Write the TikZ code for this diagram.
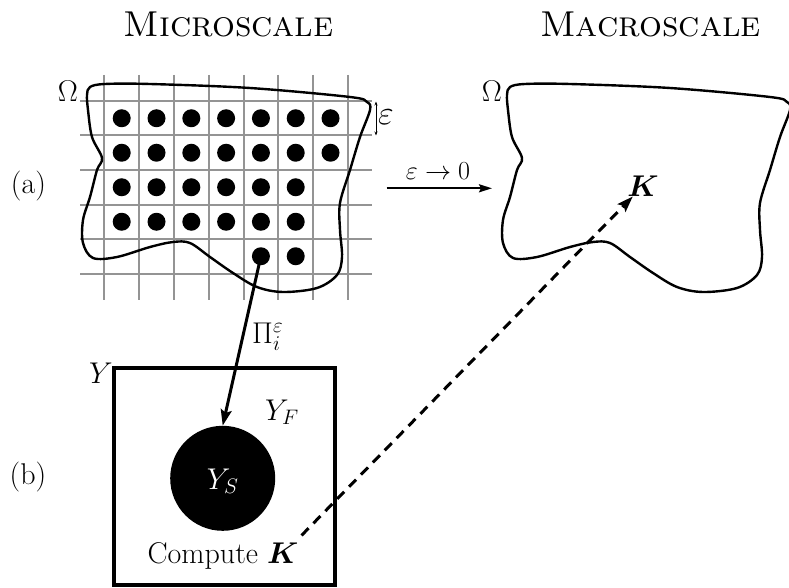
\RequirePackage{fix-cm}
\documentclass[tikz,border=0pt]{standalone}
\usepackage{bm}
\usetikzlibrary{arrows.meta}
\begin{document}
\begin{tikzpicture}[x=1pt,y=-1pt,
  gridline/.style={draw=black!42, line width=2pt},
  dotnode/.style={circle, fill=black, inner sep=0pt, minimum size=18pt},
  boundary/.style={line width=2.4pt, line join=round},
  lbl/.style={font=\fontsize{30}{36}\selectfont, inner sep=0pt},
  titlelbl/.style={font=\fontsize{36}{42}\selectfont, inner sep=0pt},
  solidarrow/.style={line width=3pt, -{Stealth[length=16pt,width=11pt,inset=3pt]}},
  dasharrow/.style={line width=3pt, dash pattern=on 10pt off 7pt, -{Stealth[length=16pt,width=11pt,inset=3pt]}},
  limarrow/.style={line width=2pt, -{Stealth[length=13pt,width=8pt,inset=2pt]}},
  epsbar/.style={line width=1pt, {Stealth[length=4pt,width=3pt]}-{Stealth[length=4pt,width=3pt]}}
]
\useasboundingbox (0,0) rectangle (789,588);

% titles
\node[titlelbl, anchor=base] (tmicro) at (228.5,37) {\textsc{Microscale}};
\node[titlelbl, anchor=base] (tmacro) at (650.5,37) {\textsc{Macroscale}};

% grid
\foreach \k in {0,...,7}
  \draw[gridline] ({104.3+34.8*\k},75) -- ({104.3+34.8*\k},300);
\foreach \j in {0,...,5}
  \draw[gridline] (80,{101+34.5*\j}) -- (372,{101+34.5*\j});

% microscale boundary
\def\omegashape{(87,95) (90,87) (105,84) (150,84) (250,88) (350,97) (367,102) (370,110)
  (360,137) (350,170) (340,203) (340,230) (342,257) (337,275) (317,288) (283,292)
  (257,287) (233,273) (210,257) (190,243) (173,242) (150,247) (117,257) (93,258)
  (83,243) (83,220) (90,197) (97,170) (102,158) (92,137) (88,110)}
\draw[boundary] plot[smooth cycle, tension=0.55] coordinates {\omegashape};
\node[lbl] (om1) at (68,91) {$\Omega$};

% dots
\foreach \j/\n in {0/7,1/7,2/6,3/6}
  \foreach \k in {1,...,\n}
    \node[dotnode] (d\j\k) at ({121.7+34.8*(\k-1)},{118.25+34.5*\j}) {};
\node[dotnode] (d45) at ({121.7+34.8*4},{118.25+34.5*4}) {};
\node[dotnode] (d46) at ({121.7+34.8*5},{118.25+34.5*4}) {};

% epsilon marker
\coordinate (e1) at (376,101.5);
\coordinate (e2) at (376,135.5);
\draw[epsbar] (e1) -- (e2);
\node[font=\fontsize{34}{40}\selectfont, inner sep=0pt] (epslbl) at (386,117) {$\varepsilon$};

% limit arrow
\coordinate (la1) at (386.7,188.3);
\coordinate (la2) at (492,188.3);
\draw[limarrow] (la1) -- (la2);
\node[lbl, font=\fontsize{26}{30}\selectfont] (limlbl) at (438,171) {$\varepsilon\to 0$};

% macroscale boundary
\begin{scope}[shift={(420,0)}]
\draw[boundary] plot[smooth cycle, tension=0.55] coordinates {\omegashape};
\end{scope}
\node[lbl] (om2) at (492,91) {$\Omega$};
\node[lbl] (K) at (643,186) {$\bm{K}$};

% row labels
\node[lbl] (la) at (28.5,186) {(a)};
\node[lbl] (lb) at (28,477) {(b)};

% unit cell
\draw[line width=4pt] (114.3,367.7) rectangle (335,585);
\node[lbl] (Ylbl) at (101,373) {$Y$};
\node[lbl] (YF) at (282,412) {$Y_F$};
\node[circle, fill=black, inner sep=0pt, minimum size=105pt] (ys) at (222.7,478.3) {};
\node[lbl, text=white] (YS) at (222.7,481) {$Y_S$};
\node[lbl] (compute) at (223,556) {Compute $\bm{K}$};

% connectors
\draw[solidarrow] (d45.center) -- (ys.north);
\node[lbl, anchor=west] (pi) at (252,337) {$\Pi_i^{\varepsilon}$};
\draw[dasharrow] ([shift={(3,-7)}]compute.north east) -- (K);
\end{tikzpicture}
\end{document}
